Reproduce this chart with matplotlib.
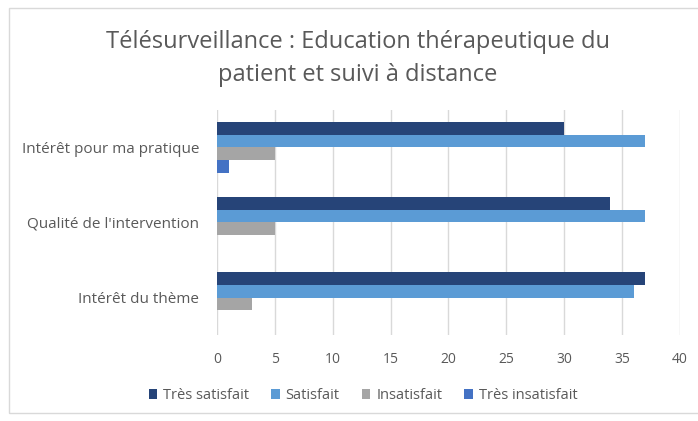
import numpy as np
import matplotlib
matplotlib.use("Agg")
import matplotlib.pyplot as plt
from matplotlib.patches import Rectangle

# donnees
categories = ["Intérêt pour ma pratique", "Qualité de l'intervention", "Intérêt du thème"]
series = ["Très satisfait", "Satisfait", "Insatisfait", "Très insatisfait"]
tres_satisfait = [30, 34, 37]
satisfait = [37, 37, 36]
insatisfait = [5, 5, 3]
tres_insatisfait = [1, 0, 0]
valeurs = [tres_satisfait, satisfait, insatisfait, tres_insatisfait]
couleurs = ["#264478", "#5B9BD5", "#A5A5A5", "#4472C4"]

plt.rcParams['font.family'] = ['Open Sans', 'DejaVu Sans']
gris = "#595959"

fig = plt.figure(figsize=(6.98, 4.21), dpi=100)
ax = fig.add_axes([0.311, 0.204, 0.663, 0.535])

# cadre du graphique
fig.patches.append(Rectangle((0.013, 0.02), 0.99, 0.962, transform=fig.transFigure,
                             fill=False, edgecolor="#D9D9D9", linewidth=1))

n = len(categories)
y = np.arange(n)[::-1]  # premiere categorie en haut
h = 0.17
for i, (nom, vals) in enumerate(zip(series, valeurs)):
    offset = (1.5 - i) * h
    ax.barh(y + offset, vals, height=h, color=couleurs[i], label=nom)

ax.set_xlim(0, 40)
ax.set_ylim(-0.5, n - 0.5)
ax.set_xticks(range(0, 41, 5))
ax.set_yticks(y)
ax.set_yticklabels(categories)
ax.tick_params(axis="both", length=0, colors=gris, labelsize=10)
ax.tick_params(axis="y", pad=13, labelsize=11)
ax.tick_params(axis="x", pad=12)
ax.grid(axis="x", color="#D9D9D9", linewidth=1)
ax.set_axisbelow(True)
for s in ax.spines.values():
    s.set_visible(False)

fig.text(0.513, 0.862, "Télésurveillance : Education thérapeutique du\npatient et suivi à distance",
         ha="center", va="center", fontsize=17, color=gris, linespacing=1.5)

leg = fig.legend(loc="center", bbox_to_anchor=(0.52, 0.06), ncol=4, frameon=False,
                 fontsize=10.5, handlelength=0.6, handleheight=0.6, handletextpad=0.4,
                 columnspacing=1.5, labelcolor=gris)

fig.savefig("out.png", dpi=100)
